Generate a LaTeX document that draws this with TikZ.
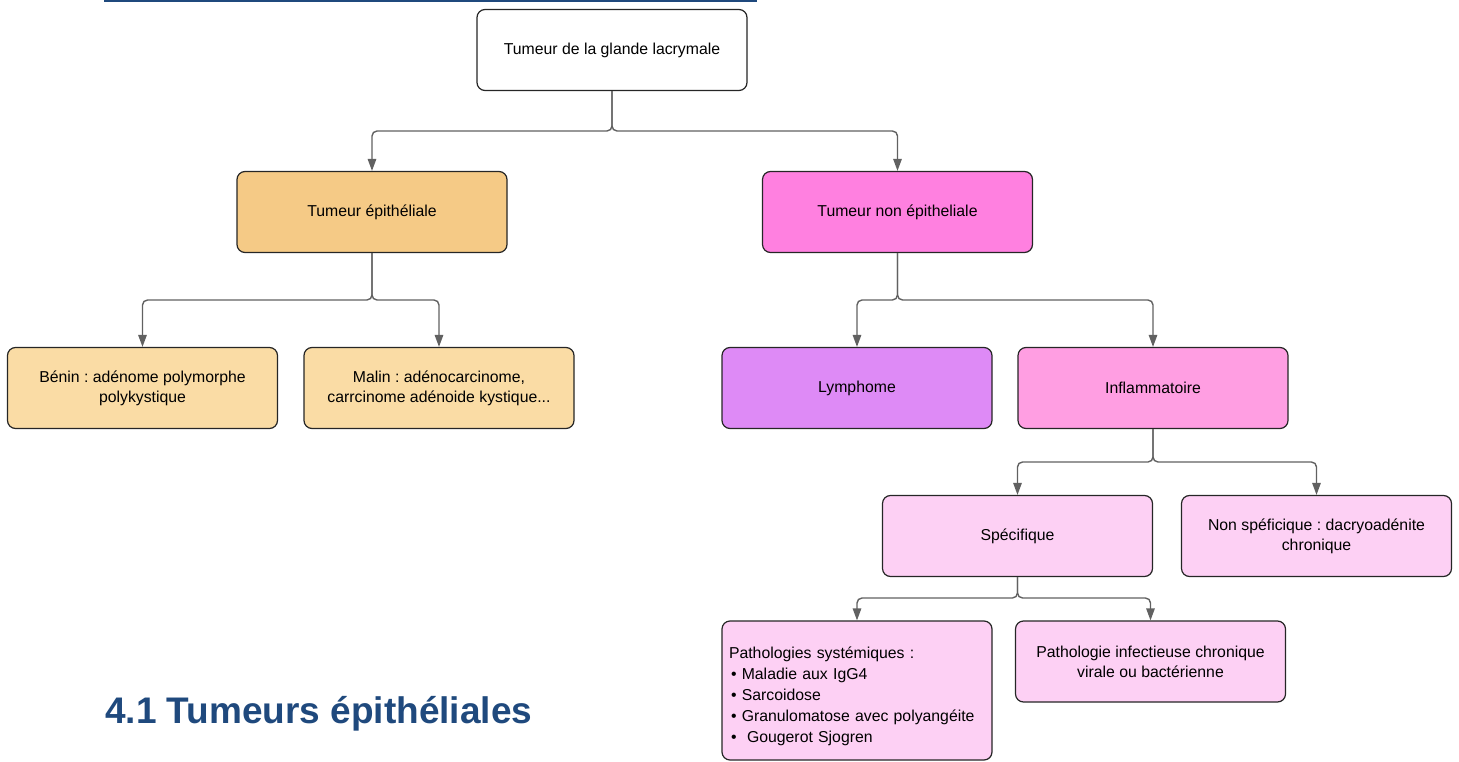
\documentclass[tikz,border=0pt]{standalone}
\usepackage{fontspec}
\setmainfont{Liberation Sans}
\usetikzlibrary{arrows.meta}
\definecolor{titleblue}{HTML}{1F497D}
\definecolor{orangedark}{HTML}{F5CA86}
\definecolor{orangelight}{HTML}{FADCA5}
\definecolor{magentac}{HTML}{FF80E0}
\definecolor{violetc}{HTML}{DE8AF6}
\definecolor{pinkmid}{HTML}{FF9EE2}
\definecolor{pinklight}{HTML}{FDD0F4}
\frenchspacing

\begin{document}
\begin{tikzpicture}[x=1pt,y=-1pt,
  box/.style={draw=black!85, line width=1.2pt, rounded corners=8pt, minimum width=270pt, minimum height=81pt, align=center, inner sep=4pt, font=\fontsize{15.8}{20}\selectfont},
  conn/.style={draw=black!62, line width=1.4pt, rounded corners=5pt, -{Triangle[length=12pt,width=8.5pt]}}]
  \useasboundingbox (0,0) rectangle (1459,762);
  \draw[titleblue, line width=2pt] (104,1) -- (757,1);

  \node[box, fill=white] (top) at (612,50) {Tumeur de la glande lacrymale};
  \node[box, fill=orangedark] (epi) at (372,212) {Tumeur épithéliale};
  \node[box, fill=magentac] (nonepi) at (897.5,212) {Tumeur non épitheliale};
  \node[box, fill=orangelight] (benin) at (142.5,388) {Bénin : adénome polymorphe\\polykystique};
  \node[box, fill=orangelight] (malin) at (439,388) {Malin : adénocarcinome,\\carrcinome adénoide kystique...};
  \node[box, fill=violetc] (lymph) at (857,388) {Lymphome};
  \node[box, fill=pinkmid] (infl) at (1153,388) {Inflammatoire};
  \node[box, fill=pinklight] (spec) at (1017.5,536) {Spécifique};
  \node[box, fill=pinklight] (nonspec) at (1316.5,536) {Non spéficique : dacryoadénite\\chronique};
  \node[box, fill=pinklight, align=left, text width=256pt, inner xsep=7pt, minimum height=139pt, font=\fontsize{15.8}{21}\selectfont] (patho) at (857,690.5)
    {\rule{0pt}{24pt}Pathologies systémiques :\\
     \hspace{2pt}• Maladie aux IgG4\\
     \hspace{2pt}• Sarcoidose\\
     \hspace{2pt}• Granulomatose avec polyangéite\\
     \hspace{2pt}•\ \ Gougerot Sjogren};
  \node[box, fill=pinklight] (infect) at (1150.5,661.5) {Pathologie infectieuse chronique\\virale ou bactérienne};

  \coordinate (j1) at (612,131);
  \coordinate (j2) at (372,300);
  \coordinate (j3) at (897.5,300);
  \coordinate (j4) at (1153,462);
  \coordinate (j5) at (1017.5,598);

  \foreach \p/\j/\c in {top/j1/epi, top/j1/nonepi, epi/j2/benin, epi/j2/malin, nonepi/j3/lymph, nonepi/j3/infl, infl/j4/spec, infl/j4/nonspec, spec/j5/patho, spec/j5/infect}
    \draw[conn] (\p) -- (\j) -| (\c);

  \node[anchor=base west, inner sep=0pt, text=titleblue, font=\bfseries\fontsize{37}{44}\selectfont] (head) at (105,723) {4.1 Tumeurs épithéliales};
\end{tikzpicture}
\end{document}
